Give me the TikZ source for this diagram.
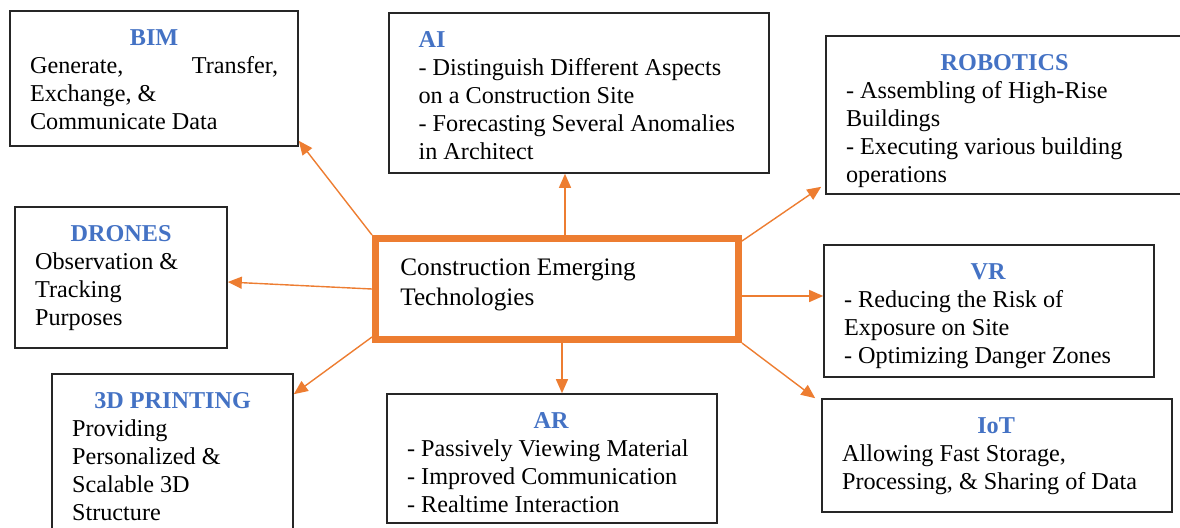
\documentclass[tikz,border=0pt]{standalone}
\usepackage{fontspec}
\setmainfont{Liberation Serif}
\usetikzlibrary{arrows.meta,fit}
\definecolor{techorange}{HTML}{ED7D31}
\definecolor{techblue}{HTML}{4472C4}
\newcommand{\hd}[1]{\textbf{\color{techblue}#1}}
% heading centred over a given width
\newcommand{\ttl}[2]{\makebox[#1][c]{\hd{#2}}}
\tikzset{
	box/.style={draw=black!85, line width=0.8pt, inner sep=0pt},
	hub/.style={draw=techorange, line width=3.5pt, inner sep=0pt},
	txt/.style={anchor=north west, inner sep=0pt, align=left, font=\fontsize{12.1}{14}\selectfont, xshift=#1, yshift=-9.3pt},
	txt/.default=10.25pt,
	link/.style={draw=techorange, line width=0.7pt, -{Triangle[length=7pt,width=6pt]}},
}
\begin{document}
\begin{tikzpicture}[x=0.5pt,y=-0.5pt]
	\useasboundingbox (0,0) rectangle (1180,527);
	\clip (0,0) rectangle (1180,527);
	% centre box
	\node[hub, fit={(375.5,238.5) (738.5,339.5)}] (ctr) {};
	\node[anchor=north west, inner sep=0pt, align=left, font=\fontsize{12.6}{15}\selectfont] (ctrtxt) at ([xshift=14pt,yshift=-11.6pt]ctr.north west) {Construction Emerging\\Technologies};
	% technology boxes
	\node[box, fit={(10,11) (298,146)}] (bim) {};
	\node[txt] (bimtxt) at (bim.north west) {\ttl{124pt}{BIM}\\\makebox[124pt][s]{Generate,\hfill Transfer,}\\Exchange, \&\\Communicate Data};
	\node[box, fit={(389,13) (769,173)}] (ai) {};
	\node[txt=15pt] (aitxt) at (ai.north west) {\hd{AI}\\- Distinguish Different Aspects\\on a Construction Site\\- Forecasting Several Anomalies\\in Architect};
	\node[box, fit={(826,36) (1185,194)}] (rob) {};
	\node[txt] (robtxt) at (rob.north west) {\ttl{158.5pt}{ROBOTICS}\\- Assembling of High-Rise\\Buildings\\- Executing various building\\operations};
	\node[box, fit={(15,207) (227,348)}] (drn) {};
	\node[txt] (drntxt) at (drn.north west) {\ttl{86pt}{DRONES}\\Observation \&\\Tracking\\Purposes};
	\node[box, fit={(824,245) (1154,377)}] (vr) {};
	\node[txt] (vrtxt) at (vr.north west) {\ttl{144pt}{VR}\\- Reducing the Risk of\\Exposure on Site\\- Optimizing Danger Zones};
	\node[box, fit={(52,374) (293,545)}] (prt) {};
	\node[txt] (prttxt) at (prt.north west) {\ttl{100.5pt}{3D PRINTING}\\Providing\\Personalized \&\\Scalable 3D\\Structure};
	\node[box, fit={(387,394) (717,523)}] (ar) {};
	\node[txt] (artxt) at (ar.north west) {\ttl{144pt}{AR}\\- Passively Viewing Material\\- Improved Communication\\- Realtime Interaction};
	\node[box, fit={(822,399) (1172,512)}] (iot) {};
	\node[txt] (iottxt) at (iot.north west) {\ttl{154pt}{IoT}\\Allowing Fast Storage,\\Processing, \& Sharing of Data};
	% links out of the centre
	\draw[link] (ctr.north west) -- ([yshift=3pt]bim.south east);
	\draw[link] ([xshift=4pt]ctr.north) -- ([xshift=-7pt]ai.south);
	\draw[link] ([yshift=-3pt]ctr.north east) -- ([yshift=4pt,xshift=-2pt]rob.south west);
	\draw[link] (ctr.west) -- ([yshift=-2.25pt]drn.east);
	\draw[link] ([yshift=-3.5pt]ctr.east) -- ([yshift=-3.5pt]ctr.east -| vr.west);
	\draw[link] (ctr.south east) -- ([xshift=-3pt]iot.north west);
	\draw[link] ([xshift=2.5pt]ctr.south) -- ([xshift=2.5pt]ctr.south |- ar.north);
	\draw[link] ([yshift=3pt]ctr.south west) -- ([yshift=-10.5pt]prt.north east);
\end{tikzpicture}
\end{document}
